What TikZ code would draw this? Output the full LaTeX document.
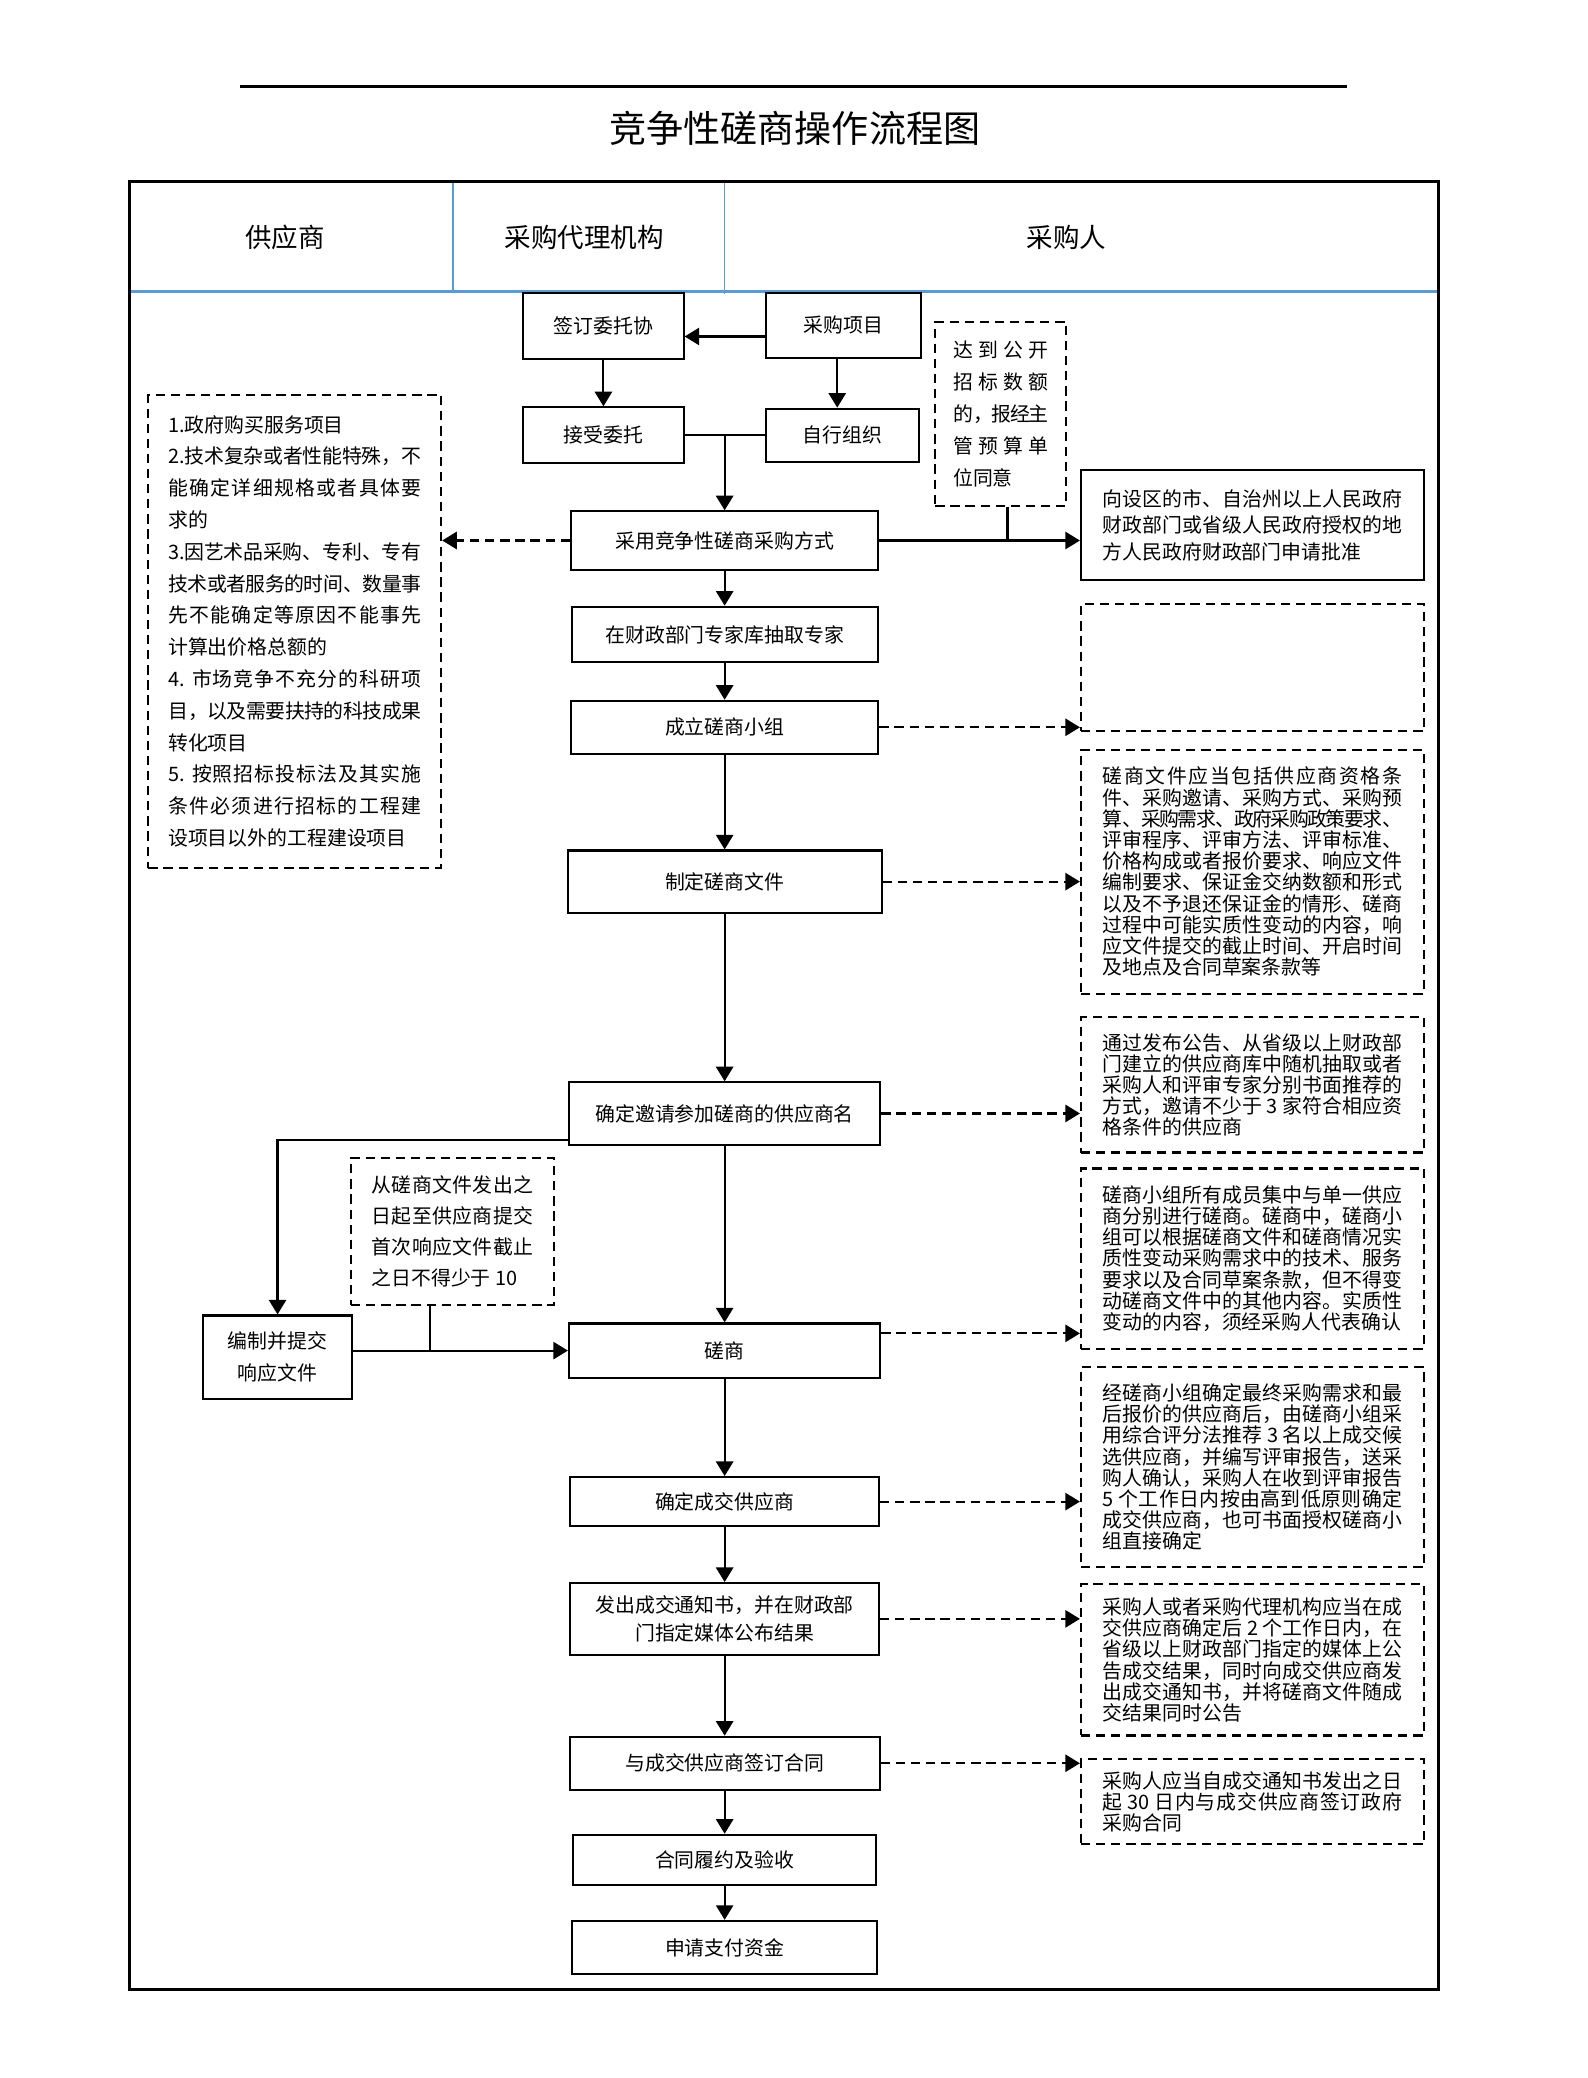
\documentclass[tikz,border=0pt]{standalone}
\usepackage{fontspec}
\setmainfont{Noto Sans CJK SC}
\usepackage{tikz}
\usetikzlibrary{arrows.meta}
\XeTeXlinebreaklocale "zh"
\XeTeXlinebreakskip=0pt plus 2pt minus 0.75pt
\definecolor{hdblue}{RGB}{91,155,213}

\begin{document}
\begin{tikzpicture}[x=0.5pt,y=-0.5pt,
  box/.style={draw,line width=0.8pt,inner sep=0pt,align=center,font=\fontsize{7.5}{10.5}\selectfont},
  txt/.style={inner sep=0pt,align=justify,font=\fontsize{7.5}{8}\selectfont,
    execute at begin node={\parindent=0pt\tolerance=10000\hbadness=10000}},
  sidebox/.style={txt,draw,line width=0.8pt,text width=113pt,minimum width=129.5pt},
  dbox/.style={sidebox,dash pattern=on 3.5pt off 2.2pt},
  arr/.style={line width=0.8pt,-{Triangle[length=5.5pt,width=6.5pt]}},
  darr/.style={arr,dash pattern=on 3.5pt off 2.2pt}]
\useasboundingbox (0,0) rectangle (1198,1568.6);
% title and header
\draw[line width=1.2pt] (181,65) -- (1017,65);
\node[font=\fontsize{14}{16}\selectfont] (title) at (600,97) {竞争性磋商操作流程图};
\draw[line width=1.2pt] (98,137) rectangle (1086,1502);
\draw[hdblue,line width=0.9pt] (99,220) -- (1085,220);
\draw[hdblue,line width=0.6pt] (342,138) -- (342,220);
\draw[hdblue,line width=0.6pt] (547,138) -- (547,222);
\node[font=\fontsize{10}{12}\selectfont] (hgys) at (215,179) {供应商};
\node[font=\fontsize{10}{12}\selectfont] (hdl) at (441,179) {采购代理机构};
\node[font=\fontsize{10}{12}\selectfont] (hcgr) at (805,179) {采购人};
% top part
\node[box,minimum width=60.5pt,minimum height=25pt] (qdwt) at (455.5,246) {签订委托协};
\node[box,minimum width=58.5pt,minimum height=24.5pt] (cgxm) at (636.5,245.5) {采购项目};
\node[box,minimum width=60.5pt,minimum height=21pt] (jswt) at (455.5,328.5) {接受委托};
\node[box,minimum width=58pt,minimum height=20pt] (zxzz) at (636,328.5) {自行组织};
\node[txt,draw,line width=0.8pt,dash pattern=on 3.5pt off 2.2pt,text width=36pt,
  minimum width=49.5pt,minimum height=69.5pt,font=\fontsize{7.5}{12}\selectfont] (ddgk) at (755.5,312.5)
  {达到公开\linebreak 招标数额\linebreak 的，报经主\linebreak 管预算单\linebreak 位同意};
\node[sidebox,minimum height=41.5pt,font=\fontsize{7.5}{10}\selectfont] (rbsp) at (945.5,396.5)
  {向设区的市、自治州以上人民政府\linebreak 财政部门或省级人民政府授权的地\linebreak 方人民政府财政部门申请批准};
\node[txt,draw,line width=0.8pt,dash pattern=on 3.5pt off 2.2pt,text width=95.5pt,
  minimum width=110.5pt,minimum height=178.5pt,font=\fontsize{7.5}{12}\selectfont] (ltbox) at (222.5,476.5)
  {1.政府购买服务项目\par
   2.技术复杂或者性能特殊，不\linebreak 能确定详细规格或者具体要\linebreak 求的\par
   3.因艺术品采购、专利、专有\linebreak 技术或者服务的时间、数量事\linebreak 先不能确定等原因不能事先\linebreak 计算出价格总额的\par
   4. 市场竞争不充分的科研项\linebreak 目，以及需要扶持的科技成果\linebreak 转化项目\par
   5. 按照招标投标法及其实施\linebreak 条件必须进行招标的工程建\linebreak 设项目以外的工程建设项目};
% main column
\node[box,minimum width=116pt,minimum height=22pt] (cyjz) at (547,408) {采用竞争性磋商采购方式};
\node[box,minimum width=115.5pt,minimum height=21pt] (zjcq) at (547,479) {在财政部门专家库抽取专家};
\node[box,minimum width=116pt,minimum height=20pt] (clxz) at (547,549) {成立磋商小组};
\node[box,minimum width=118.5pt,minimum height=23.5pt] (zdwj) at (547,665.5) {制定磋商文件};
\node[box,minimum width=117.5pt,minimum height=23.5pt] (qdyq) at (547,840.5) {确定邀请参加磋商的供应商名};
\node[box,minimum width=117.5pt,minimum height=20.5pt] (cs) at (547,1019.5) {磋商};
\node[box,minimum width=116.5pt,minimum height=18.5pt] (qdcj) at (547,1133.5) {确定成交供应商};
\node[box,minimum width=116.5pt,minimum height=27pt] (fctz) at (547,1222) {发出成交通知书，并在财政部\\门指定媒体公布结果};
\node[box,minimum width=117pt,minimum height=20pt] (qdht) at (547,1331) {与成交供应商签订合同};
\node[box,minimum width=114.5pt,minimum height=19pt] (htly) at (547,1404) {合同履约及验收};
\node[box,minimum width=115pt,minimum height=20pt] (sqzf) at (547,1470) {申请支付资金};
% supplier side
\node[box,minimum width=56.5pt,minimum height=31.5pt,font=\fontsize{7.5}{12}\selectfont] (bztj) at (209.5,1024.5) {编制并提交\\响应文件};
\node[txt,draw,line width=0.8pt,dash pattern=on 3.5pt off 2.2pt,text width=61pt,
  minimum width=76.5pt,minimum height=55.5pt,font=\fontsize{7.5}{11.7}\selectfont] (cswj) at (341.5,929.5)
  {从磋商文件发出之\linebreak 日起至供应商提交\linebreak 首次响应文件截止\linebreak \parfillskip=0pt 之日不得少于 10};
% notes on the right
\node[dbox,minimum height=48pt] (nta) at (945.5,504) {};
\node[dbox,minimum height=92pt] (ntb) at (945.5,658)
  {磋商文件应当包括供应商资格条\linebreak 件、采购邀请、采购方式、采购预\linebreak 算、采购需求、政府采购政策要求、\linebreak
   评审程序、评审方法、评审标准、\linebreak 价格构成或者报价要求、响应文件\linebreak 编制要求、保证金交纳数额和形式\linebreak
   以及不予退还保证金的情形、磋商\linebreak 过程中可能实质性变动的内容，响\linebreak 应文件提交的截止时间、开启时间\linebreak 及地点及合同草案条款等};
\node[dbox,minimum height=51pt] (ntc) at (945.5,819)
  {通过发布公告、从省级以上财政部\linebreak 门建立的供应商库中随机抽取或者\linebreak 采购人和评审专家分别书面推荐的\linebreak
   方式，邀请不少于 3 家符合相应资\linebreak 格条件的供应商};
\node[dbox,minimum height=68pt] (ntd) at (945.5,950)
  {磋商小组所有成员集中与单一供应\linebreak 商分别进行磋商。磋商中，磋商小\linebreak 组可以根据磋商文件和磋商情况实\linebreak
   质性变动采购需求中的技术、服务\linebreak 要求以及合同草案条款，但不得变\linebreak 动磋商文件中的其他内容。实质性\linebreak
   变动的内容，须经采购人代表确认};
\node[dbox,minimum height=75.5pt] (nte) at (945.5,1107.5)
  {经磋商小组确定最终采购需求和最\linebreak 后报价的供应商后，由磋商小组采\linebreak 用综合评分法推荐 3 名以上成交候\linebreak
   选供应商，并编写评审报告，送采\linebreak 购人确认，采购人在收到评审报告\linebreak 5 个工作日内按由高到低原则确定\linebreak
   成交供应商，也可书面授权磋商小\linebreak 组直接确定};
\node[dbox,minimum height=57pt] (ntf) at (945.5,1253)
  {采购人或者采购代理机构应当在成\linebreak 交供应商确定后 2 个工作日内，在\linebreak 省级以上财政部门指定的媒体上公\linebreak
   告成交结果，同时向成交供应商发\linebreak 出成交通知书，并将磋商文件随成\linebreak 交结果同时公告};
\node[dbox,minimum height=32pt] (ntg) at (945.5,1360)
  {采购人应当自成交通知书发出之日\linebreak 起 30 日内与成交供应商签订政府\linebreak 采购合同};
% connectors
\draw[arr] (cgxm.west|-0,254) -- (qdwt.east|-0,254);
\draw[arr] (qdwt) -- (jswt);
\draw[arr] ([xshift=-2.25pt]cgxm.south) -- ([xshift=-2.25pt]cgxm.south|-zxzz.north);
\draw[line width=0.8pt] (jswt.east) -- (zxzz.west);
\coordinate (mg) at (547,328.5);
\draw[arr] (mg) -- (mg|-cyjz.north);
\draw[arr] (cyjz.east) -- (cyjz.east-|rbsp.west);
\draw[line width=0.8pt] ([xshift=2.5pt]ddgk.south) -- ([xshift=2.5pt]ddgk.south|-cyjz.east);
\draw[darr] (cyjz.west) -- (cyjz.west-|ltbox.east);
\foreach \a/\b in {cyjz/zjcq,zjcq/clxz,clxz/zdwj,zdwj/qdyq,qdyq/cs,cs/qdcj,qdcj/fctz,fctz/qdht,qdht/htly,htly/sqzf}
  \draw[arr] (\a) -- (\b);
\foreach \a/\b in {clxz/nta,zdwj/ntb,qdyq/ntc,qdcj/nte,fctz/ntf,qdht/ntg}
  \draw[darr] (\a.east) -- (\a.east-|\b.west);
\draw[darr] ([yshift=6.5pt]cs.east) -- ([yshift=6.5pt]cs.east-|ntd.west);
\draw[arr] ([yshift=2pt]qdyq.south west) -| (bztj.north);
\draw[arr] (bztj.east|-cs.west) -- (cs.west);
\draw[line width=0.8pt] ([xshift=-8.5pt]cswj.south) -- ([xshift=-8.5pt]cswj.south|-cs.west);
\end{tikzpicture}
\end{document}
